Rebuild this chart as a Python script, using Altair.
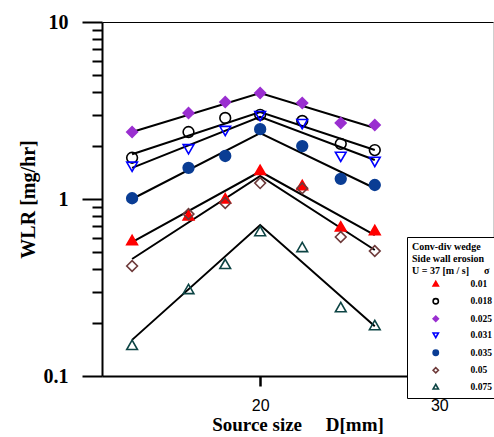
import altair as alt
import pandas as pd

# ---- data ----
sigmas = ["0.01", "0.018", "0.025", "0.031", "0.035", "0.05", "0.075"]
d_mm = [12.85, 16.0, 18.05, 20.0, 22.35, 24.5, 26.4]

wlr_001 = [0.586, 0.81, 1.01, 1.46, 1.20, 0.70, 0.668]
wlr_0018 = [1.71, 2.39, 2.87, 2.99, 2.76, 2.05, 1.89]
wlr_0025 = [2.39, 3.06, 3.53, 3.97, 3.49, 2.69, 2.62]
wlr_0031 = [1.52, 1.91, 2.42, 2.94, 2.65, 1.73, 1.62]
wlr_0035 = [1.01, 1.50, 1.75, 2.48, 1.99, 1.30, 1.20]
wlr_005 = [0.418, 0.822, 0.95, 1.23, 1.15, 0.61, 0.508]
wlr_0075 = [0.150, 0.310, 0.43, 0.659, 0.536, 0.245, 0.194]

# fitted lines: left end, peak, right end
fit_x = [12.85, 20.0, 26.4]
fit_001 = [0.571, 1.43, 0.626]
fit_0018 = [1.79, 3.10, 1.89]
fit_0025 = [2.39, 3.97, 2.52]
fit_0031 = [1.50, 2.91, 1.66]
fit_0035 = [1.00, 2.36, 1.15]
fit_005 = [0.458, 1.35, 0.515]
fit_0075 = [0.160, 0.713, 0.191]

shapes = ["triangle-up", "circle", "diamond", "triangle-down", "circle", "diamond", "triangle-up"]
strokes = ["#ff0000", "#000000", "#9a2fd0", "#0000ff", "#0a3d94", "#6e3a3a", "#0d4444"]
fills = ["#ff0000", "transparent", "#9a2fd0", "transparent", "#0a3d94", "transparent", "transparent"]

series_vals = [wlr_001, wlr_0018, wlr_0025, wlr_0031, wlr_0035, wlr_005, wlr_0075]
series_fit = [fit_001, fit_0018, fit_0025, fit_0031, fit_0035, fit_005, fit_0075]

pts = pd.DataFrame(
    [{"x": x, "wlr": v, "sigma": s} for s, vals in zip(sigmas, series_vals) for x, v in zip(d_mm, vals)]
)
fits = pd.DataFrame(
    [{"x": x, "wlr": v, "sigma": s} for s, vals in zip(sigmas, series_fit) for x, v in zip(fit_x, vals)]
)

serif = "Liberation Serif"
sans = "Liberation Sans"
NB = "\u00a0"

xscale = alt.Scale(domain=[11.17, 33.0], nice=False, zero=False)
yscale = alt.Scale(type="log", domain=[0.1, 10], nice=False)
shape_scale = alt.Scale(domain=sigmas, range=shapes)
stroke_scale = alt.Scale(domain=sigmas, range=strokes)
fill_scale = alt.Scale(domain=sigmas, range=fills)

x_bottom = alt.Axis(
    orient="bottom", values=[20, 30], format="d", grid=False,
    tickSize=10, tickWidth=2.5, tickColor="black",
    domainColor="black", domainWidth=2,
    labelFont=sans, labelFontSize=16, labelColor="black", labelPadding=11,
    title="Source size" + NB * 5 + "D[mm]", titleFont=serif, titleFontSize=19,
    titleFontWeight="bold", titleColor="black", titlePadding=2,
)
x_top = alt.Axis(orient="top", ticks=False, labels=False, grid=False,
                 domainColor="black", domainWidth=1, title=None)

y_major = alt.Axis(
    orient="left", values=[0.1, 1, 10], format="~g", grid=False,
    tickSize=20, tickWidth=2, tickColor="black",
    domainColor="black", domainWidth=2,
    labelFont=serif, labelFontWeight="bold", labelFontSize=20,
    labelColor="black", labelPadding=14,
    title="WLR [mg/hr]", titleFont=serif, titleFontSize=20,
    titleFontWeight="bold", titleColor="black", titlePadding=5,
)
y_minor = alt.Axis(
    orient="left", values=[0.2, 0.3, 0.4, 0.5, 0.6, 0.7, 0.8, 0.9, 2, 3, 4, 5, 6, 7, 8, 9],
    grid=False, tickSize=10, tickWidth=2, tickColor="black",
    labels=False, domain=False, title=None,
)

legend = alt.Legend(
    title=["Conv-div wedge", "Side wall erosion", "U = 37 [m / s]" + NB * 6 + "σ"],
    orient="none", legendX=305, legendY=215,
    fillColor="white", strokeColor="black", padding=5,
    titleFont=serif, titleFontSize=10, titleFontWeight="bold", titleColor="black",
    titleLineHeight=12, titlePadding=3,
    labelFont=serif, labelFontSize=9.5, labelFontWeight="bold", labelColor="black",
    labelOffset=30, symbolOffset=19, symbolSize=28, symbolStrokeWidth=1.6,
    rowPadding=4.5,
)

# legend-only layer first (no rows drawn), so the merged legend takes its small symbols
legend_layer = alt.Chart(pts).transform_filter("false").mark_point(
    filled=True, strokeWidth=1.6, opacity=1
).encode(
    x=alt.X("x:Q", scale=xscale, axis=None),
    y=alt.Y("wlr:Q", scale=yscale, axis=None),
    shape=alt.Shape("sigma:N", scale=shape_scale, legend=legend),
    stroke=alt.Stroke("sigma:N", scale=stroke_scale, legend=legend),
    fill=alt.Fill("sigma:N", scale=fill_scale, legend=legend),
)

lines = alt.Chart(fits).mark_line(color="black", strokeWidth=2).encode(
    x=alt.X("x:Q", scale=xscale, axis=x_bottom),
    y=alt.Y("wlr:Q", scale=yscale, axis=y_major),
    detail="sigma:N",
)

points = alt.Chart(pts).mark_point(filled=True, size=115, strokeWidth=1.6, opacity=1).encode(
    x=alt.X("x:Q", scale=xscale, axis=x_top),
    y=alt.Y("wlr:Q", scale=yscale, axis=y_minor),
    shape=alt.Shape("sigma:N", scale=shape_scale, legend=legend),
    stroke=alt.Stroke("sigma:N", scale=stroke_scale, legend=legend),
    fill=alt.Fill("sigma:N", scale=fill_scale, legend=legend),
)

chart = (
    alt.layer(legend_layer, lines, points)
    .resolve_axis(x="independent", y="independent")
    .properties(
        width=391, height=354, autosize="none",
        padding={"left": 102, "top": 22, "right": 1, "bottom": 61},
        background="white",
    )
    .configure_view(stroke="#cfcfcf", strokeWidth=1)
)

chart.save("out.html", embed_options={"renderer": "svg", "actions": False})
